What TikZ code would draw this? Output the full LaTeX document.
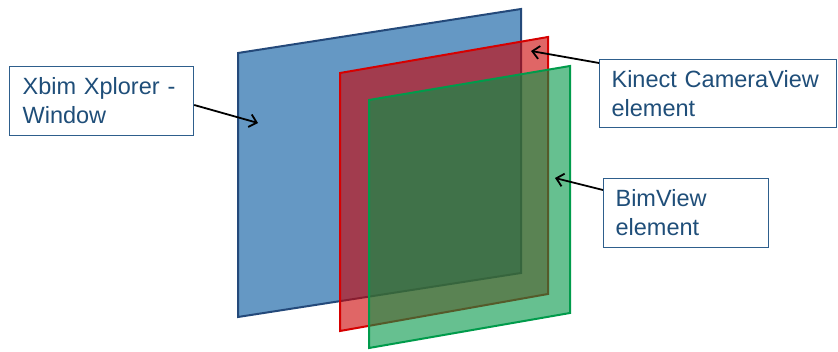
\documentclass[tikz,border=0pt]{standalone}
\usepackage{fontspec}
\setmainfont{Liberation Sans}
\usetikzlibrary{arrows.meta,calc}
\definecolor{txtblue}{RGB}{31,78,121}
\definecolor{boxblue}{RGB}{46,94,140}
\definecolor{planeblue}{RGB}{101,152,196}
\definecolor{planeblueedge}{RGB}{36,73,122}
\definecolor{planered}{RGB}{204,0,0}
\definecolor{planerededge}{RGB}{214,0,0}
\definecolor{planegreen}{RGB}{0,150,70}
\definecolor{planegreenedge}{RGB}{0,155,75}
\tikzset{
  labelbox/.style={draw=boxblue, line width=1.2pt, fill=white, anchor=north west,
    align=left, inner xsep=12pt, inner ysep=0pt, text=txtblue,
    font=\fontsize{23.5}{29}\selectfont},
  pointer/.style={draw=black, line width=1.8pt, -{Straight Barb[length=7pt,width=13pt,line width=1.8pt]}},
  plane/.style={line width=2pt, line join=miter}
}
\begin{document}
\begin{tikzpicture}[x=1pt,y=-1pt]
\useasboundingbox (0,0) rectangle (838,352);
% planes
\path[plane, fill=planeblue, draw=planeblueedge] (238,53) -- (521,9) -- (521,273) -- (238,317) -- cycle;
\path[plane, fill=planered, fill opacity=0.6, draw=planerededge] (340,73) -- (548,37) -- (548,294) -- (340,331) -- cycle;
\path[plane, fill=planegreen, fill opacity=0.6, draw=planegreenedge] (369,100) -- (570,66) -- (570,313) -- (369,348) -- cycle;
% label boxes
\node[labelbox, minimum width=184pt, minimum height=69pt, text width=158pt] (xbim) at (9,66) {Xbim Xplorer -\\Window};
\node[labelbox, minimum width=237pt, minimum height=68pt, text width=213pt] (kinect) at (599,59) {Kinect CameraView\\element};
\node[labelbox, minimum width=165pt, minimum height=69pt, text width=141pt] (bim) at (603,178) {BimView\\element};
% arrow tips
\coordinate (tipxbim) at (258,123);
\coordinate (tipkinect) at (531,51);
\coordinate (tipbim) at (555,178);
\draw[pointer] ($(xbim.north east)+(0,39)$) -- (tipxbim);
\draw[pointer] ($(kinect.north west)+(0,4)$) -- (tipkinect);
\draw[pointer] ($(bim.north west)+(0,12)$) -- (tipbim);
\end{tikzpicture}
\end{document}
